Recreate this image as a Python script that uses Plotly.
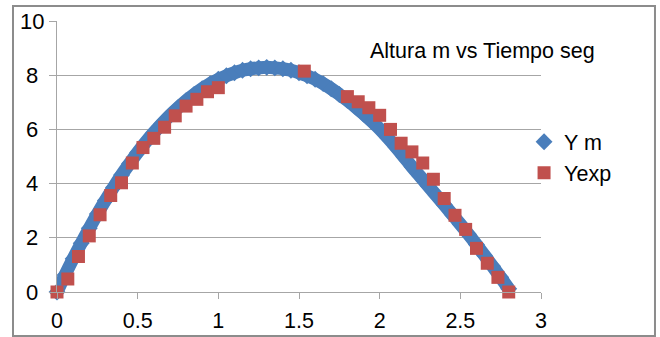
import plotly.graph_objects as go

# ---- data ----
t_model = [0.00, 0.05, 0.10, 0.15, 0.20, 0.25, 0.30, 0.35, 0.40, 0.45,
           0.50, 0.55, 0.60, 0.65, 0.70, 0.75, 0.80, 0.85, 0.90, 0.95,
           1.00, 1.05, 1.10, 1.15, 1.20, 1.25, 1.30, 1.35, 1.40, 1.45,
           1.50, 1.55, 1.60, 1.65, 1.70, 1.75, 1.80, 1.85, 1.90, 1.95,
           2.00, 2.05, 2.10, 2.15, 2.20, 2.25, 2.30, 2.35, 2.40, 2.45,
           2.50, 2.55, 2.60, 2.65, 2.70, 2.75, 2.80]
y_model = [0.00, 0.63, 1.23, 1.80, 2.35, 2.88, 3.38, 3.86, 4.32, 4.74,
           5.15, 5.53, 5.88, 6.21, 6.52, 6.80, 7.06, 7.29, 7.50, 7.69,
           7.85, 7.98, 8.09, 8.18, 8.24, 8.27, 8.29, 8.27, 8.24, 8.18,
           8.09, 7.98, 7.85, 7.69, 7.50, 7.29, 7.07, 6.83, 6.57, 6.30,
           6.02, 5.69, 5.35, 4.99, 4.62, 4.27, 3.92, 3.57, 3.22, 2.86,
           2.50, 2.13, 1.75, 1.35, 0.95, 0.54, 0.12]

t_exp = [0.000, 0.067, 0.133, 0.200, 0.267, 0.333, 0.400, 0.467, 0.533, 0.600,
         0.667, 0.733, 0.800, 0.867, 0.933, 1.000, 1.533, 1.800, 1.867, 1.933,
         2.000, 2.067, 2.133, 2.200, 2.267, 2.333, 2.400, 2.467, 2.533, 2.600,
         2.667, 2.733, 2.800]
y_exp = [0.00, 0.48, 1.31, 2.07, 2.85, 3.56, 4.03, 4.76, 5.33, 5.67,
         6.08, 6.50, 6.86, 7.11, 7.39, 7.54, 8.15, 7.21, 7.02, 6.80,
         6.52, 6.00, 5.49, 5.17, 4.76, 4.16, 3.45, 2.83, 2.31, 1.61,
         1.06, 0.54, 0.00]

x_ticks = [0, 0.5, 1, 1.5, 2, 2.5, 3]
x_ticktext = ["0", "0.5", "1", "1.5", "2", "2.5", "3"]
y_ticks = [0, 2, 4, 6, 8, 10]
y_ticktext = ["0", "2", "4", "6", "8", "10"]

series_names = ["Y m", "Yexp"]
chart_title = "Altura m vs Tiempo seg"

BLUE = "#4A7EBB"
RED = "#C0504D"
GRID = "#A6A6A6"
FONT = "Liberation Sans, Arial, sans-serif"

fig = go.Figure()

# thick band underneath the diamonds (no legend entry)
fig.add_trace(go.Scatter(
    x=t_model, y=y_model, mode="lines",
    line=dict(color=BLUE, width=13, shape="spline"),
    showlegend=False, hoverinfo="skip", cliponaxis=False,
    legendgroup="ym"))
fig.add_trace(go.Scatter(
    x=t_model, y=y_model, mode="markers", name=series_names[0],
    marker=dict(symbol="diamond", size=13, color=BLUE, line=dict(width=0)),
    cliponaxis=False, legendgroup="ym"))
fig.add_trace(go.Scatter(
    x=t_exp, y=y_exp, mode="markers", name=series_names[1],
    marker=dict(symbol="square", size=13, color=RED, line=dict(width=0)),
    cliponaxis=False))

annotations = []
for v, txt in zip(y_ticks, y_ticktext):
    annotations.append(dict(
        x=0, xref="paper", y=v, yref="y", text=txt, showarrow=False,
        xanchor="center", yanchor="middle", xshift=-25,
        font=dict(family=FONT, size=22, color="#000000")))
annotations.append(dict(
    x=0.879, xref="paper", y=0.889, yref="paper", text=chart_title,
    showarrow=False, xanchor="center", yanchor="middle",
    font=dict(family=FONT, size=21.5, color="#000000")))

fig.update_layout(
    width=660, height=337,
    margin=dict(l=57, r=119, t=21, b=45, autoexpand=False),
    paper_bgcolor="white", plot_bgcolor="white",
    font=dict(family=FONT, size=21, color="#000000"),
    showlegend=True,
    legend=dict(x=0.965, y=0.63, xanchor="left", yanchor="top",
                bgcolor="rgba(0,0,0,0)", borderwidth=0,
                font=dict(family=FONT, size=21.5, color="#000000"),
                itemwidth=30, tracegroupgap=0),
    annotations=annotations,
    shapes=[dict(type="rect", xref="paper", yref="paper",
                 x0=-0.0909, x1=1.2355, y0=-0.1624, y1=1.0554,
                 line=dict(color="#8C8C8C", width=2), fillcolor="rgba(0,0,0,0)",
                 layer="below")],
)
fig.update_xaxes(
    range=[0, 3], tickvals=x_ticks, ticktext=x_ticktext,
    showgrid=False, zeroline=False, automargin=False,
    showline=True, linecolor=GRID, linewidth=1,
    ticks="outside", ticklen=6, tickcolor=GRID, tickwidth=1,
    ticklabelstandoff=3,
    tickfont=dict(family=FONT, size=21.5, color="#000000"))
fig.update_yaxes(
    range=[0, 10], tickvals=y_ticks, ticktext=y_ticktext,
    showticklabels=False, automargin=False,
    showgrid=True, gridcolor=GRID, gridwidth=1, zeroline=False,
    showline=True, linecolor=GRID, linewidth=1,
    ticks="outside", ticklen=7, tickcolor=GRID, tickwidth=1)

fig.write_html("out.html")
